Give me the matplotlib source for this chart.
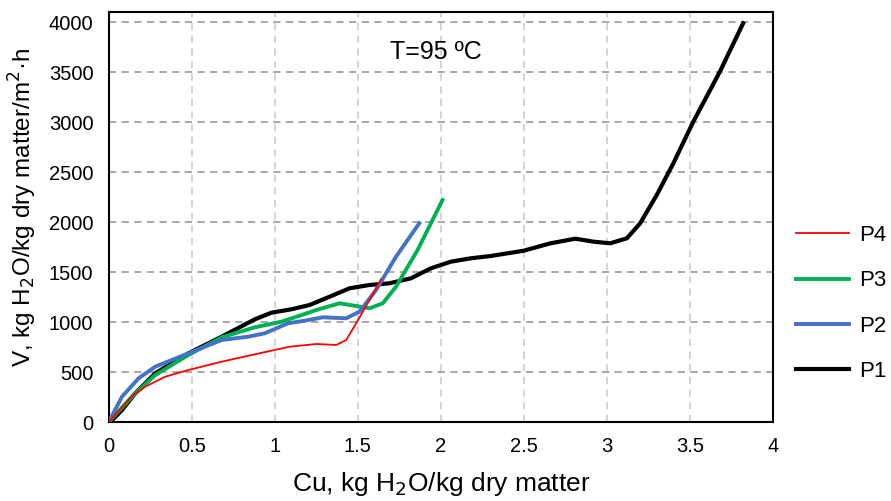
import matplotlib
matplotlib.use("Agg")
import matplotlib.pyplot as plt
import numpy as np

plt.rcParams['font.family'] = ['Liberation Sans', 'DejaVu Sans']

# P1 (black)
p1_x = [0.01, 0.08, 0.16, 0.28, 0.48, 0.68, 0.88, 0.98, 1.10, 1.21, 1.33, 1.45, 1.57, 1.69, 1.82,
        1.94, 2.06, 2.18, 2.30, 2.50, 2.66, 2.81, 2.92, 3.02, 3.12, 3.20, 3.30, 3.40, 3.52, 3.68, 3.82]
p1_y = [0, 120, 287, 487, 687, 853, 1027, 1093, 1127, 1170, 1253, 1337, 1370, 1387, 1437,
        1537, 1603, 1637, 1660, 1713, 1787, 1833, 1803, 1787, 1837, 1987, 2270, 2587, 3003, 3503, 3987]
# P3 (green)
p3_x = [0.0, 0.14, 0.28, 0.48, 0.68, 0.88, 1.04, 1.18, 1.25, 1.39, 1.49, 1.57, 1.65, 1.73, 1.86, 2.01]
p3_y = [0, 253, 470, 670, 847, 947, 1003, 1080, 1120, 1187, 1160, 1137, 1187, 1353, 1720, 2220]
# P2 (blue)
p2_x = [0.0, 0.08, 0.18, 0.28, 0.48, 0.68, 0.84, 0.94, 1.08, 1.18, 1.29, 1.43, 1.51, 1.61, 1.73, 1.87]
p2_y = [0, 253, 437, 553, 687, 820, 853, 887, 987, 1013, 1047, 1037, 1103, 1320, 1653, 1987]
# P4 (red)
p4_x = [0.0, 0.14, 0.22, 0.34, 0.48, 0.68, 0.88, 1.09, 1.25, 1.37, 1.43, 1.49, 1.57, 1.64]
p4_y = [0, 260, 353, 453, 520, 603, 677, 753, 780, 770, 820, 987, 1220, 1427]

fig = plt.figure(figsize=(8.91, 5.01), dpi=100)
ax = fig.add_axes([108.7/891, 1-422/501, (773-108.7)/891, 410/501])

ax.plot(p4_x, p4_y, color='#ff0000', lw=1.3, label='P4', zorder=5)
ax.plot(p3_x, p3_y, color='#00b050', lw=2.8, label='P3', zorder=4)
ax.plot(p2_x, p2_y, color='#4472c4', lw=2.8, label='P2', zorder=4)
ax.plot(p1_x, p1_y, color='black', lw=3, label='P1', zorder=3)

ax.set_xlim(0, 4)
ax.set_ylim(0, 4100)
ax.set_xticks(np.arange(0, 4.01, 0.5))
ax.set_xticklabels(['0', '0.5', '1', '1.5', '2', '2.5', '3', '3.5', '4'])
ax.set_yticks(np.arange(0, 4001, 500))
ax.tick_params(length=0, labelsize=14.5)
ax.tick_params(axis='x', pad=11)
ax.tick_params(axis='y', pad=11)

ax.yaxis.grid(True, color='#a0a0a0', ls=(0, (4, 3)), lw=1.3)
ax.xaxis.grid(True, color='#d0d0d0', ls=(0, (4, 3)), lw=1.3)
ax.set_axisbelow(True)
for s in ax.spines.values():
    s.set_linewidth(1.5)

ax.set_xlabel('Cu, kg H$_2$O/kg dry matter', fontsize=19, labelpad=10)
ax.set_ylabel('V, kg H$_2$O/kg dry matter/m$^2$·h', fontsize=17.5,
              va='center', ha='center')
ax.yaxis.set_label_coords(-0.129, 0.522)
ax.text(1.97, 3700, 'T=95 ºC', fontsize=18, ha='center', va='center')

ax.legend(loc='center left', bbox_to_anchor=(796/891, 1-303.5/501),
          bbox_transform=fig.transFigure, frameon=False, borderpad=0, borderaxespad=0,
          fontsize=16, handlelength=2.4, labelspacing=1.1, handletextpad=0.45)

fig.savefig('out.png', dpi=100)
